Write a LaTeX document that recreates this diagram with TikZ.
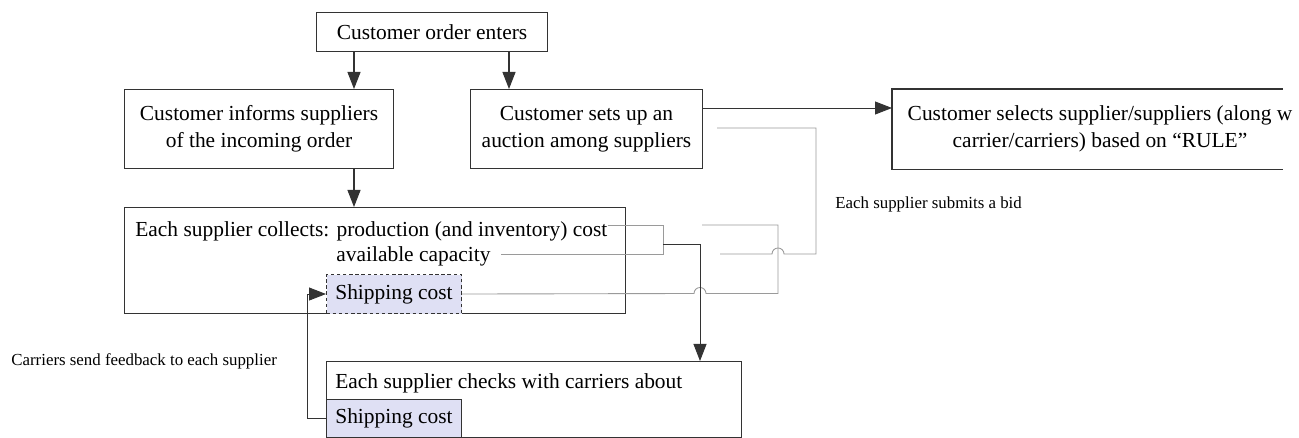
\documentclass[tikz,border=0pt]{standalone}
\usepackage{fontspec}
\setmainfont{Liberation Serif}
\usetikzlibrary{arrows.meta}
\definecolor{shipfill}{HTML}{DFE0F4}
\definecolor{wiregray}{HTML}{9A9A9A}
\begin{document}
\begin{tikzpicture}[x=0.02cm,y=-0.02cm,
  stepbox/.style={draw=black!80,line width=0.6pt,inner sep=0pt,anchor=north west,align=center,font=\fontsize{12.2}{15.2}\selectfont},
  shipbox/.style={stepbox,fill=shipfill},
  txt/.style={inner sep=0pt,anchor=base west,font=\fontsize{12.2}{15.2}\selectfont},
  note/.style={inner sep=0pt,anchor=base west,font=\fontsize{9.6}{11}\selectfont},
  arr/.style={draw=black!80,line width=0.6pt,-{Triangle[length=3.4mm,width=2.6mm]}},
  wire/.style={draw=wiregray,line width=0.5pt}]
\useasboundingbox (0,0) rectangle (1299,438);
% boxes
\node[stepbox,minimum width=4.62cm,minimum height=0.78cm] (order) at (316,12) {Customer order enters};
\node[stepbox,minimum width=5.38cm,minimum height=1.58cm] (inform) at (124,89) {Customer informs suppliers\\of the incoming order};
\node[stepbox,minimum width=4.64cm,minimum height=1.58cm] (auction) at (470,89) {Customer sets up an\\auction among suppliers};
\node[stepbox,draw=none,minimum width=7.8cm,minimum height=1.58cm] (selbox) at (892,89) {};
\node[stepbox,draw=none,anchor=center] (select) at (1100,128.5) {Customer selects supplier/suppliers (along w\\carrier/carriers) based on “RULE”};
\draw[line width=0.6pt,draw=black!80] (selbox.north east) -- (selbox.north west) -- (selbox.south west) -- (selbox.south east);
\node[stepbox,minimum width=10.02cm,minimum height=2.12cm] (collect) at (124,207) {};
\node[txt] (cost) at (135,236.5) {Each supplier collects: production (and inventory) cost};
\node[txt] (capa) at (336,261.5) {available capacity};
\node[shipbox,dashed,dash pattern=on 2pt off 1.5pt,minimum width=2.7cm,minimum height=0.78cm] (shipa) at (326,274) {Shipping cost};
\node[stepbox,minimum width=8.3cm,minimum height=1.52cm] (check) at (326,361) {};
\node[txt] (checktxt) at (335,389) {Each supplier checks with carriers about};
\node[shipbox,minimum width=2.7cm,minimum height=0.76cm] (shipb) at (326,399) {Shipping cost};
% labels
\node[note] (bidnote) at (835,209) {Each supplier submits a bid};
\node[note] (feednote) at (11,366) {Carriers send feedback to each supplier};
% arrows
\draw[arr] (order.south -| 354,0) -- (inform.north -| 354,0);
\draw[arr] (order.south -| 509,0) -- (auction.north -| 509,0);
\draw[arr] (inform.south -| 354,0) -- (collect.north -| 354,0);
\draw[arr,line width=0.5pt] (auction.east |- 0,108) -- (selbox.west |- 0,108);
% bid wires
\draw[wire] (717,128) -| (816,254) -- (784,254) arc[start angle=0,end angle=180,radius=1.2mm] -- (720,254);
\draw[wire] (shipa.east) -- (694,293.5) arc[start angle=180,end angle=0,radius=1.2mm] -- (778,293.5) |- (702,225);
\draw[wire] ([shift={(0,-11)}]cost.base east) -| (663,254) -- ([shift={(10,-7.5)}]capa.base east);
\draw[arr,line width=0.5pt] (663,244) -| (check.north -| 700,0);
% feedback
\draw[arr,line width=0.5pt] (shipb.west) -- ++(-19,0) |- (shipa.west);
\end{tikzpicture}
\end{document}
